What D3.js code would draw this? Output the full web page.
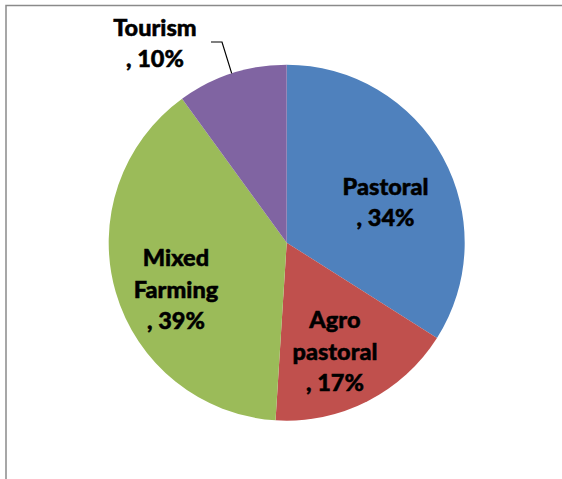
<!DOCTYPE html>
<html>
<head>
<meta charset="utf-8">
<script src="https://cdn.jsdelivr.net/npm/d3@7"></script>
<style>
  html, body { margin: 0; padding: 0; background: #fff; }
  svg { display: block; }
  text { font-family: Lato, "Open Sans", sans-serif; font-weight: 900; fill: #000; stroke: #000; stroke-width: 0.5px; }
</style>
</head>
<body>
<script>
// ---- data ----
const categories = ["Pastoral", "Agro pastoral", "Mixed Farming", "Tourism"];
const values = [34, 17, 39, 10];
const colors = ["#4F81BD", "#C0504D", "#9BBB59", "#8064A2"];

// ---- layout ----
const W = 562, H = 479;
const cx = 286.7, cy = 242.7, R = 178;
const fontSize = 23.5, lineH = 31.5;
// label placement relative to pie centre: [angle in degrees clockwise from 12 o'clock, radius]
const labelPolar = [[71.9, 104], [157.6, 126.6], [243.5, 123.7], [325.4, 232]];

const svg = d3.select("body").append("svg").attr("width", W).attr("height", H);

// chart frame
svg.append("rect")
  .attr("x", 6).attr("y", 5.5).attr("width", 800).attr("height", 800)
  .attr("fill", "none").attr("stroke", "#8a8a8a").attr("stroke-width", 1.5);

const pie = d3.pie().sort(null).value(d => d)(values);
const arc = d3.arc().innerRadius(0).outerRadius(R);

const g = svg.append("g").attr("transform", `translate(${cx},${cy})`);
g.selectAll("path").data(pie).join("path")
  .attr("d", arc)
  .attr("fill", (d, i) => colors[i]);

const fmt = v => ", " + v + "%";

pie.forEach((d, i) => {
  const lines = categories[i].split(" ").concat([fmt(values[i])]);
  const a = labelPolar[i][0] * Math.PI / 180, r = labelPolar[i][1];
  const lx = r * Math.sin(a), ly = -r * Math.cos(a);
  const t = g.append("text").attr("text-anchor", "middle").attr("font-size", fontSize);
  lines.forEach((ln, k) => {
    t.append("tspan").attr("x", lx).attr("y", ly + (k - (lines.length - 1) / 2) * lineH).text(ln);
  });
});

// leader line for the outside label (Tourism)
const tour = pie[3];
const mid = (tour.startAngle + tour.endAngle) / 2;
const p0 = [R * Math.sin(mid), -R * Math.cos(mid)];
const elbow = [222 - cx, 42 - cy];
const end = [211 - cx, 42 - cy];
g.append("path")
  .attr("d", d3.line()([p0, elbow, end]))
  .attr("fill", "none").attr("stroke", "#000").attr("stroke-width", 1.2);
</script>
</body>
</html>
